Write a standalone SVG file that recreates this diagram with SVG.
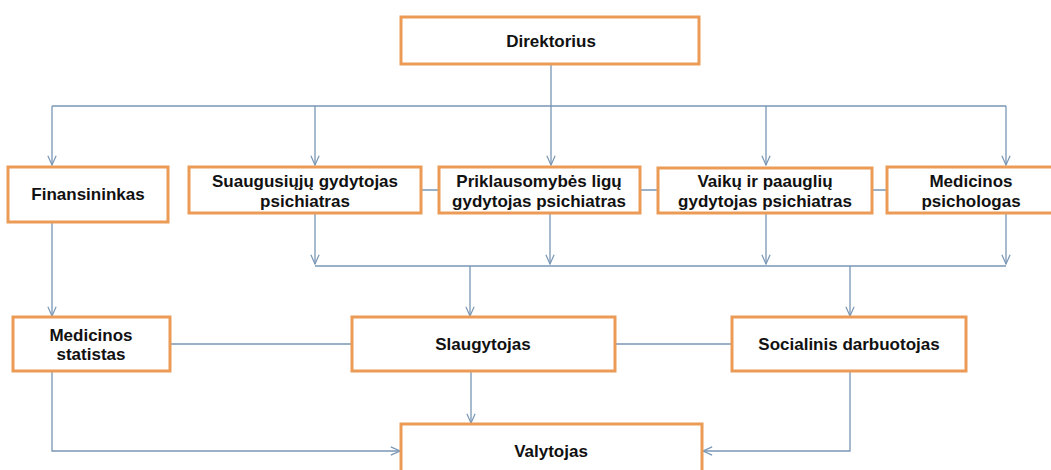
<svg xmlns="http://www.w3.org/2000/svg" width="1051" height="470" viewBox="0 0 1051 470">
  <style>
    .box { fill: #ffffff; stroke: #ec9b57; stroke-width: 3; }
    .lbl { font-family: "Liberation Sans", Arial, sans-serif; font-weight: bold; font-size: 17px; fill: #111111; text-anchor: middle; dominant-baseline: central; }
    .ln { fill: none; stroke: #7896b5; stroke-width: 1.3; }
    .ar { fill: none; stroke: #7896b5; stroke-width: 1.3; marker-end: url(#arr); }
  </style>
  <defs>
    <marker id="arr" viewBox="0 0 12 12" refX="11" refY="6" markerWidth="11" markerHeight="11" markerUnits="userSpaceOnUse" orient="auto">
      <path d="M1,1.5 L11,6 L1,10.5" fill="none" stroke="#7896b5" stroke-width="1.3"/>
    </marker>
  </defs>
  <rect width="1051" height="470" fill="#ffffff"/>

  <g id="connectors">
    <path class="ln" d="M551,64 V106 M52,106 H1006"/>
    <path class="ar" d="M52,106 V165"/>
    <path class="ar" d="M315,106 V165"/>
    <path class="ar" d="M551,106 V165"/>
    <path class="ar" d="M766,106 V165"/>
    <path class="ar" d="M1006,106 V165"/>
    <path class="ln" d="M421,190 H439 M640,190 H658 M872,190 H887"/>
    <path class="ar" d="M315,213 V264"/>
    <path class="ar" d="M550,213 V264"/>
    <path class="ar" d="M766,213 V264"/>
    <path class="ar" d="M1006,213 V264"/>
    <path class="ln" d="M315,266 H1006"/>
    <path class="ar" d="M470,266 V316"/>
    <path class="ar" d="M850,266 V316"/>
    <path class="ar" d="M52,222 V316"/>
    <path class="ln" d="M170,344 H352 M615,344 H732"/>
    <path class="ar" d="M471,371 V423"/>
    <path class="ar" d="M52,371 V451 H400"/>
    <path class="ar" d="M850,371 V451 H703"/>
  </g>

  <g id="n-direktorius">
    <rect class="box" x="401" y="17" width="298" height="47"/>
    <text class="lbl" x="551" y="41">Direktorius</text>
  </g>
  <g id="n-finansininkas">
    <rect class="box" x="8" y="167" width="160" height="55"/>
    <text class="lbl" x="88" y="194">Finansininkas</text>
  </g>
  <g id="n-suaugusiuju">
    <rect class="box" x="189" y="167" width="232" height="46"/>
    <text class="lbl" x="305" y="181">Suaugusiųjų gydytojas</text>
    <text class="lbl" x="305" y="201">psichiatras</text>
  </g>
  <g id="n-priklausomybes">
    <rect class="box" x="439" y="167" width="201" height="46"/>
    <text class="lbl" x="539" y="181">Priklausomybės ligų</text>
    <text class="lbl" x="539" y="201">gydytojas psichiatras</text>
  </g>
  <g id="n-vaiku">
    <rect class="box" x="658" y="168" width="214" height="45"/>
    <text class="lbl" x="765" y="181">Vaikų ir paauglių</text>
    <text class="lbl" x="765" y="201">gydytojas psichiatras</text>
  </g>
  <g id="n-psichologas">
    <rect class="box" x="887" y="167" width="170" height="46"/>
    <text class="lbl" x="971" y="181">Medicinos</text>
    <text class="lbl" x="971" y="201">psichologas</text>
  </g>
  <g id="n-statistas">
    <rect class="box" x="13" y="317" width="157" height="54"/>
    <text class="lbl" x="91" y="335">Medicinos</text>
    <text class="lbl" x="91" y="354">statistas</text>
  </g>
  <g id="n-slaugytojas">
    <rect class="box" x="352" y="317" width="263" height="54"/>
    <text class="lbl" x="483" y="344">Slaugytojas</text>
  </g>
  <g id="n-socialinis">
    <rect class="box" x="732" y="317" width="234" height="54"/>
    <text class="lbl" x="849" y="344">Socialinis darbuotojas</text>
  </g>
  <g id="n-valytojas">
    <rect class="box" x="401" y="424" width="301" height="60"/>
    <text class="lbl" x="551" y="451">Valytojas</text>
  </g>
</svg>
